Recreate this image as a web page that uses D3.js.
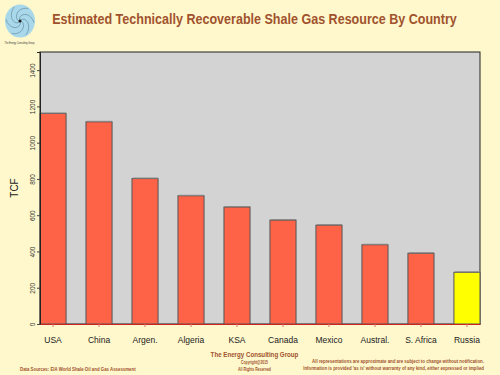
<!DOCTYPE html>
<html>
<head>
<meta charset="utf-8">
<script src="https://cdn.jsdelivr.net/npm/d3@7"></script>
<style>
  html, body { margin: 0; padding: 0; background: #FFF8CC; }
  svg { display: block; }
  text { font-family: "Liberation Sans", Arial, sans-serif; }
</style>
</head>
<body>
<svg id="chart" width="500" height="375"></svg>
<script>
const categories = ["USA", "China", "Argen.", "Algeria", "KSA", "Canada", "Mexico", "Austral.", "S. Africa", "Russia"];
const values = [1161, 1115, 802, 707, 645, 573, 545, 437, 390, 285];
const highlight = ["Russia"];
const yTicks = [0, 200, 400, 600, 800, 1000, 1200, 1400];
const yDomain = [0, 1500];

const W = 500, H = 375;
const m = { left: 40, right: 20, top: 52, bottom: 51 };
const svg = d3.select("#chart");
const brown = "#A0522D";

svg.append("rect").attr("width", W).attr("height", H).attr("fill", "#FFF8CC");

const x = d3.scaleBand().domain(categories).range([m.left, W - m.right]).paddingInner(0.433).paddingOuter(0);
const y = d3.scaleLinear().domain(yDomain).range([H - m.bottom, m.top]);

// plot background
svg.append("rect")
  .attr("x", m.left).attr("y", m.top)
  .attr("width", W - m.left - m.right).attr("height", H - m.top - m.bottom)
  .attr("fill", "#D3D3D3").attr("stroke", "#222").attr("stroke-width", 1);

// bars
const bars = svg.append("g");
categories.forEach((c, i) => {
  const x0 = x(c), bw = x.bandwidth(), y0 = y(values[i]), y1 = y(0);
  bars.append("rect")
    .attr("x", x0).attr("y", y0).attr("width", bw).attr("height", y1 - y0)
    .attr("fill", highlight.includes(c) ? "#FFFF00" : "#FF6347")
    .attr("stroke", "#555").attr("stroke-width", 1);
  bars.append("line")
    .attr("x1", x0 + 1).attr("x2", x0 + bw).attr("y1", y0 - 0.5).attr("y2", y0 - 0.5)
    .attr("stroke", "#888").attr("stroke-width", 1);
});

// y axis
const yAxis = svg.append("g").attr("transform", `translate(${m.left},0)`)
  .call(d3.axisLeft(y).tickValues(yTicks).tickFormat(d3.format("d")).tickSize(3).tickPadding(3));
yAxis.select(".domain").attr("stroke", "#222");
yAxis.selectAll(".tick line").attr("stroke", "#444");
yAxis.selectAll(".tick text")
  .attr("font-size", 6.5).attr("fill", "#333")
  .attr("transform", "rotate(-90)")
  .attr("x", 0).attr("y", -5).attr("dy", 0)
  .attr("text-anchor", "middle");

// x axis
const xAxis = svg.append("g").attr("transform", `translate(0,${H - m.bottom})`)
  .call(d3.axisBottom(x).tickSize(3).tickPadding(8).tickSizeOuter(0));
xAxis.select(".domain").attr("stroke", "#CC2222").attr("stroke-width", 1);
xAxis.selectAll(".tick line").attr("stroke", "#E07070");
xAxis.selectAll(".tick text").attr("font-size", 8.5).attr("fill", "#222")
  .attr("y", 19).attr("dy", 0);

// y title
svg.append("text")
  .attr("transform", `translate(18,${(m.top + H - m.bottom) / 2}) rotate(-90)`)
  .attr("text-anchor", "middle").attr("font-size", 10).attr("fill", "#222")
  .text("TCF");

// horizontally condensed text helper: scales text so it spans `len` px
function condensed(txt, xp, yp, size, len, anchor, opts = {}) {
  const g = svg.append("g");
  const t = g.append("text").attr("x", 0).attr("y", 0).attr("text-anchor", anchor)
    .attr("font-size", size).attr("font-weight", opts.bold === false ? "normal" : "bold")
    .attr("fill", opts.fill || brown).text(txt);
  const natural = t.node().getComputedTextLength() || len;
  const sx = Math.min(1, len / natural);
  g.attr("transform", `translate(${xp},${yp}) scale(${sx},1)`);
  return t;
}

// title
condensed("Estimated Technically Recoverable Shale Gas Resource By Country", 254.5, 24, 14.5, 405, "middle");

// logo
const logo = svg.append("g").attr("transform", "translate(20,21)");
logo.append("ellipse").attr("rx", 15).attr("ry", 16.5).attr("fill", "#A8D8EA");
for (let k = 0; k < 6; k++) {
  const pts = d3.range(0, 1.01, 0.05).map(t => {
    const a = k * Math.PI / 3 + t * 2.2, r = t * 14;
    return [r * Math.cos(a), r * Math.sin(a) * 1.1];
  });
  logo.append("path").attr("d", d3.line()(pts)).attr("fill", "none")
    .attr("stroke", "#4a6a80").attr("stroke-width", 0.6).attr("opacity", 0.8);
}
logo.append("circle").attr("r", 1.5).attr("fill", "#222");
condensed("The Energy Consulting Group", 19.5, 43.5, 3, 30, "middle", { bold: false, fill: "#333" });

// footer
condensed("The Energy Consulting Group", 254.5, 357, 6.5, 88, "middle");
condensed("Copyright@2015", 254.5, 364, 5, 27, "middle");
condensed("All Rights Reserved", 254.5, 371, 5, 33, "middle");
condensed("Data Sources: EIA World Shale Oil and Gas Assessment", 20, 371, 5, 116, "start");
condensed("All representations are approximate and are subject to change without notification.", 484, 363, 5, 172, "end");
condensed("Information is provided 'as is' without warranty of any kind, either expressed or implied", 484, 370, 5, 181, "end");
</script>
</body>
</html>
